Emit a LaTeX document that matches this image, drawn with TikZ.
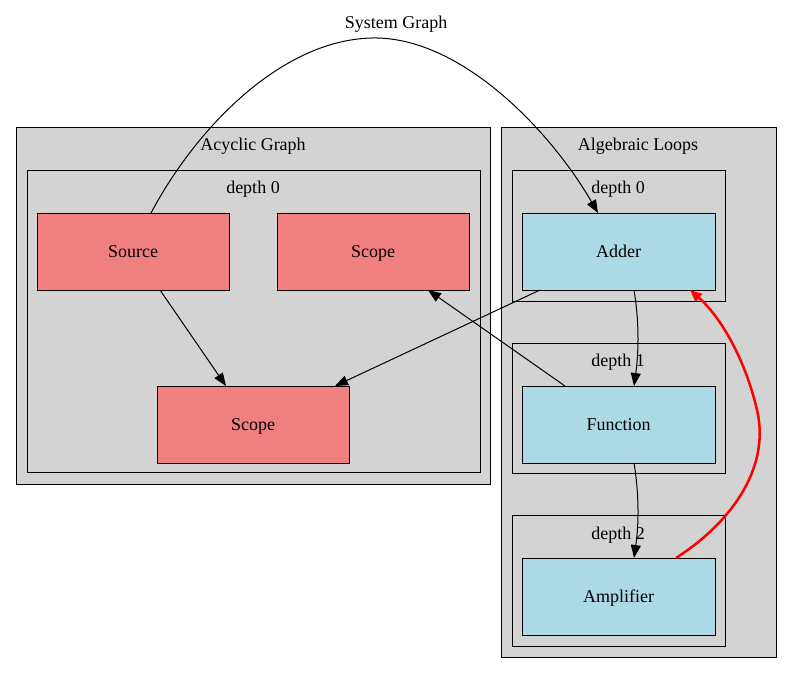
\documentclass[tikz,border=0pt]{standalone}
\usepackage{fontspec}
\setmainfont{Liberation Serif}
\usetikzlibrary{arrows.meta}
\definecolor{lcoral}{HTML}{F08080}
\definecolor{lblue}{HTML}{ADD8E6}
\definecolor{lgrey}{HTML}{D3D3D3}
\begin{document}
\begin{tikzpicture}[x=1pt,y=-1pt,
  every node/.style={font=\fontsize{18}{20}\selectfont, inner sep=0pt, outer sep=0pt, text depth=0pt},
  cluster/.style={draw=black, fill=lgrey, line width=1pt, rectangle},
  redbox/.style={draw=black, fill=lcoral, rectangle, minimum width=192pt, minimum height=77pt, line width=1pt},
  bluebox/.style={draw=black, fill=lblue, rectangle, minimum width=193pt, minimum height=77pt, line width=1pt},
  lbl/.style={anchor=center},
  edge/.style={draw=black, line width=1pt, -{Triangle[length=13pt,width=10pt]}},
  loopedge/.style={draw=red, line width=2.5pt, -{Triangle[length=12pt,width=10pt]}}
]
\useasboundingbox (0,0) rectangle (792,673);
% clusters
\draw[cluster] (16,127) rectangle (490,484);
\draw[cluster] (27,170) rectangle (480,472);
\draw[cluster] (501,127) rectangle (776,657);
\draw[cluster] (512,170) rectangle (725,301);
\draw[cluster] (512,343) rectangle (725,473);
\draw[cluster] (512,515) rectangle (725,646);
% labels
\node[lbl] (tsys) at (396,22) {System Graph};
\node[lbl] (tacy) at (253,144) {Acyclic Graph};
\node[lbl] (tad0) at (253,187) {depth 0};
\node[lbl] (talg) at (638,144) {Algebraic Loops};
\node[lbl] (tl0) at (618,187) {depth 0};
\node[lbl] (tl1) at (618,360) {depth 1};
\node[lbl] (tl2) at (618,533) {depth 2};
% nodes
\node[redbox] (src) at (133,251.5) {Source};
\node[redbox] (sc1) at (373,251.5) {Scope};
\node[redbox] (sc2) at (253,424.5) {Scope};
\node[bluebox] (add) at (618.5,251.5) {Adder};
\node[bluebox] (fun) at (618.5,424.5) {Function};
\node[bluebox] (amp) at (618.5,596.5) {Amplifier};
% edges
\draw[edge] ([xshift=18pt]src.north) .. controls (195,130) and (280,40) .. (372,38) .. controls (460,36) and (550,130) .. ([xshift=-20.5pt]add.north);
\draw[edge] ([xshift=27pt]src.south) -- ([xshift=-27pt]sc2.north);
\draw[edge] ([xshift=-78.5pt]add.south) -- ([xshift=82pt]sc2.north);
\draw[edge] ([xshift=-53.5pt]fun.north) -- ([xshift=55pt]sc1.south);
\draw[edge] ([xshift=15.5pt]add.south) .. controls (639,320) and (639,350) .. ([xshift=15.5pt]fun.north);
\draw[edge] ([xshift=15.5pt]fun.south) .. controls (639,493) and (639,523) .. ([xshift=15.5pt]amp.north);
\draw[loopedge] ([xshift=57.5pt]amp.north) .. controls (735,520) and (770,465) .. (757,410) .. controls (746,362) and (722,318) .. ([xshift=71.5pt]add.south);
\end{tikzpicture}
\end{document}
